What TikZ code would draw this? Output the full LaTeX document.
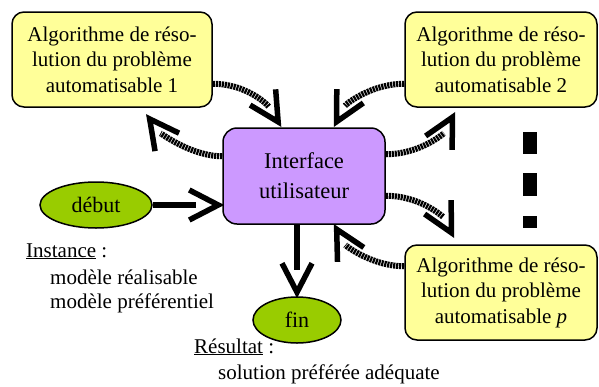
\documentclass[tikz,border=0pt]{standalone}
\usepackage{fontspec}
\setmainfont{Liberation Serif}
\usetikzlibrary{calc,decorations.markings,shapes.geometric}
\definecolor{boxyellow}{HTML}{FFFF99}
\definecolor{uipurple}{HTML}{CC99FF}
\definecolor{ovalgreen}{HTML}{99CC00}
\begin{document}
\begin{tikzpicture}[x=1pt,y=-1pt,
  algo/.style={draw=black, line width=1.5pt, fill=boxyellow, rounded corners=12pt,
    align=center, inner sep=0pt, minimum width=192pt, minimum height=95pt,
    font=\fontsize{21}{25.5}\selectfont},
  uibox/.style={draw=black, line width=1.5pt, fill=uipurple, rounded corners=14pt,
    align=center, inner sep=0pt, minimum width=162pt, minimum height=96pt,
    font=\fontsize{22.5}{30}\selectfont},
  oval/.style={ellipse, draw=black, line width=1.5pt, fill=ovalgreen, inner sep=0pt,
    minimum height=46pt, font=\fontsize{22}{25}\selectfont},
  note/.style={anchor=base west, inner sep=0pt, font=\fontsize{21}{25}\selectfont},
  vtip/.style={postaction={decorate, decoration={markings, mark=at position 1 with
    {\draw[solid, line width=5.5pt, line cap=butt, line join=miter]
      (-33pt,15pt) -- (-4pt,0pt) -- (-33pt,-15pt);}}}},
  curvearrow/.style={vtip, postaction={draw, line width=6pt, shorten >=22pt,
    dash pattern=on 2.2pt off 0.8pt}},
  straightarrow/.style={vtip, postaction={draw, line width=6.5pt, shorten >=26pt}}
]
\useasboundingbox (0,0) rectangle (599,386);

% boxes
\node[algo, minimum width=200pt] (b1) at (112,59.5)
  {Algorithme de réso-\\lution du problème\\automatisable 1};
\node[algo] (b2) at (501,59.5)
  {Algorithme de réso-\\lution du problème\\automatisable 2};
\node[algo] (bp) at (501,292.5)
  {Algorithme de réso-\\lution du problème\\automatisable \textit{p}};
\node[uibox] (ui) at (304,176) {Interface\\utilisateur};
\node[oval, minimum width=112pt] (deb) at (96,205) {début};
\node[oval, minimum width=88pt] (fin) at (297,320) {fin};

% texts
\node[note] (inst) at (26,257) {\underline{Instance} :};
\node[note] (m1) at (50,284) {modèle réalisable};
\node[note] (m2) at (50,308) {modèle préférentiel};
\node[note] (res) at (194,353) {\underline{Résultat} :};
\node[note] (sol) at (218,379) {solution préférée adéquate};

% vertical dots
\fill (523,132) rectangle (537,154);
\fill (523,173) rectangle (537,196);
\fill (523,216) rectangle (537,228);

% curved arrows
\path[curvearrow] ($(b1.south east)+(0,-24)$) .. controls +(33,0) and +(-13,-21) .. ($(ui.north west)+(58,-2)$);
\path[curvearrow] ($(ui.north west)+(0,29)$) .. controls +(-32,0) and +(12,16) .. ($(b1.south west)+(136,8)$);
\path[curvearrow] ($(b2.south west)+(0,-24)$) .. controls +(-33,0) and +(11,-21) .. ($(ui.north east)+(-51,-2)$);
\path[curvearrow] ($(ui.north east)+(0,27)$) .. controls +(35,0) and +(-10,19) .. ($(b2.south west)+(50,6)$);
\path[curvearrow] ($(ui.south east)+(0,-29)$) .. controls +(35,0) and +(-10,-19) .. ($(bp.north west)+(49,-8)$);
\path[curvearrow] ($(bp.north west)+(0,22)$) .. controls +(-32,0) and +(11,20) .. ($(ui.south east)+(-51,1)$);

% straight arrows
\path[straightarrow] (deb.east) -- (ui.west |- deb.east);
\path[straightarrow] (fin.north |- ui.south) -- (fin.north);
\end{tikzpicture}
\end{document}
